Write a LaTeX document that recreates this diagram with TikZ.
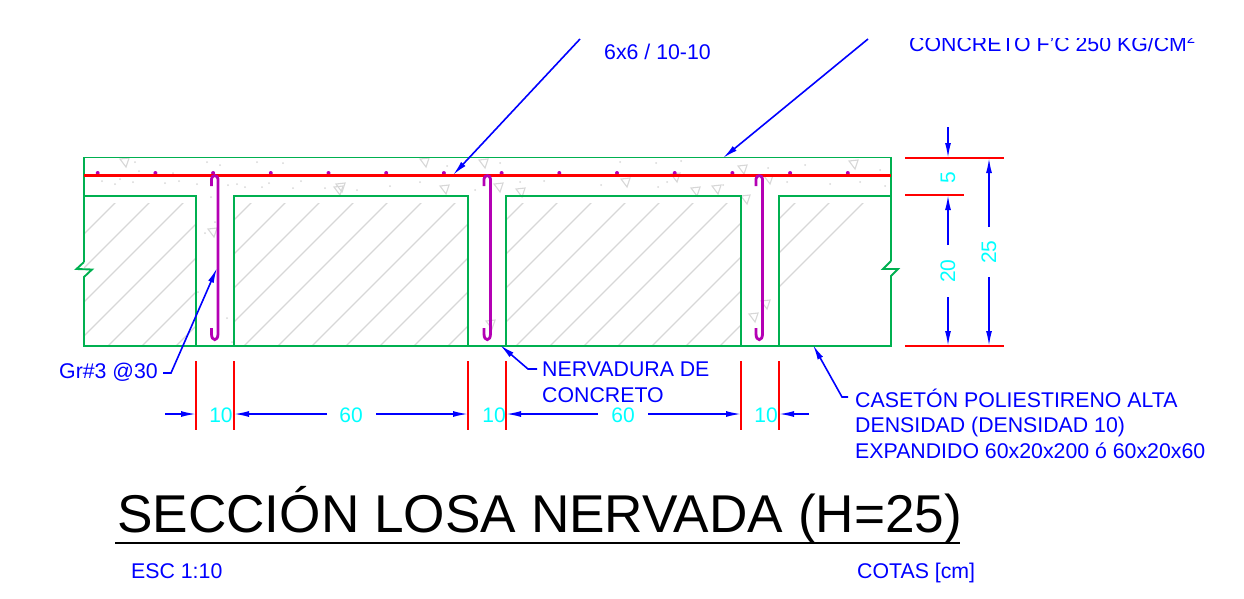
\documentclass[tikz,border=0pt]{standalone}
\usepackage{fontspec}
\setmainfont{Liberation Sans}
\usetikzlibrary{arrows.meta}
\definecolor{slabgreen}{RGB}{0,176,80}
\definecolor{barred}{RGB}{255,0,0}
\definecolor{stirrup}{RGB}{180,0,180}
\definecolor{dimblue}{RGB}{0,0,255}
\definecolor{dimcyan}{RGB}{0,255,255}
\definecolor{hatchgrey}{RGB}{215,215,215}
\begin{document}
\begin{tikzpicture}[
    x=1pt, y=-1pt,
    every node/.style={align=left, inner sep=0pt},
    outline/.style={draw=slabgreen, line width=1.9pt, line join=miter},
    hatch/.style={draw=hatchgrey, line width=1.3pt},
    speck/.style={draw=hatchgrey, line width=1.1pt},
    mesh/.style={draw=barred, line width=3pt},
    redline/.style={draw=barred, line width=1.8pt},
    hook/.style={draw=stirrup, line width=2.8pt},
    leader/.style={draw=dimblue, line width=1.6pt, -{Latex[length=15pt,width=6pt]}},
    dimline/.style={draw=dimblue, line width=1.6pt, -{Latex[length=15pt,width=6pt]}},
    note/.style={text=dimblue, font=\fontsize{21.3}{25}\selectfont, anchor=base west},
    dimtext/.style={text=dimcyan, font=\fontsize{21}{25}\selectfont},
    title/.style={text=black, font=\fontsize{53.2}{60}\selectfont, anchor=base west}
  ]
    \useasboundingbox (0,0) rectangle (1244,598);
    % hatch of the blocks
    \begin{scope}
      \clip (84,203) rectangle (196,346) (234,203) rectangle (468,346)
            (506,203) rectangle (741,346) (779,203) rectangle (891,346);
      \foreach \i in {-3,...,22}
        \draw[hatch] ({318+\i*34-346},346) -- ++(160,-160);
    \end{scope}
    % concrete specks
    \foreach \x/\y in {124/163,338/191,212/233,483/164,498/188,520/193,625/183,675/178,695/192,
                       742/170,745/200,768/180,753/318,490/325,424/163,853/165,340/188,
                       444/190,716/190,765/305}
      \draw[speck] (\x-4,\y-4) -- ++(9,-1) -- ++(-3,9) -- cycle;
    \foreach \x/\y in {135/162,207/162,220/165,257/162,283/163,139/171,173/173,102/181,120/179,
                       133/182,115/184,165/183,179/181,197/184,228/185,237/184,245/187,262/187,
                       269/183,293/188,301/181,325/188,357/190,211/197,215/222,205/233,198/292,
                       227/318,232/342,500/163,620/162,656/163,681/161,768/168,787/182,520/182,
                       544/181,601/185,658/187,723/185,667/182,805/165,830/184,860/182,880/170,
                       885/186,390/186,420/182,447/166,475/190}
      \fill[hatchgrey] (\x,\y) circle (1pt);
    % slab and blocks
    \draw[outline] (84,262) -- (84,157.5) -- (891,157.5) -- (891,261);
    \draw[outline] (84,196) -- (196,196) -- (196,346);
    \draw[outline] (234,346) -- (234,196) -- (468,196) -- (468,346);
    \draw[outline] (506,346) -- (506,196) -- (741,196) -- (741,346);
    \draw[outline] (779,346) -- (779,196) -- (891,196);
    \draw[outline] (84,262) -- (76.5,269) -- (92,269.5) -- (84,277) -- (84,346) -- (891,346) -- (891,276)
       -- (898,269) -- (883,269) -- (891,261);
    % mesh
    \foreach \i in {0,...,13}
      \fill[stirrup] ({97.7+\i*57.7},173) circle (2pt);
    \draw[mesh] (84,175) -- (891,175);
    % stirrups
    \foreach \x in {218,490.5,762.5}
      \draw[hook] (\x-6.5,186) -- (\x-6.5,179) .. controls (\x-6.5,174.5) and (\x,174.5) .. (\x,179)
        -- (\x,334) .. controls (\x,341.5) and (\x-6.5,341.5) .. (\x-6.5,334) -- (\x-6.5,328);
    % leaders
    \coordinate (meshtip) at (453,175);
    \coordinate (slabtip) at (723,158);
    \coordinate (hooktip) at (217,268);
    \coordinate (ribtip) at (500,345);
    \coordinate (blocktip) at (813,345);
    \coordinate (meshstart) at (580,39);
    \coordinate (slabstart) at (868,39);
    \coordinate (hookstart) at (163,373);
    \coordinate (hookbend) at (171,373);
    \coordinate (ribstart) at (537,369);
    \coordinate (ribbend) at (528,369);
    \coordinate (blockstart) at (848,397);
    \coordinate (blockbend) at (842,397);
    \draw[leader] (meshstart) -- (meshtip);
    \draw[leader] (slabstart) -- (slabtip);
    \draw[leader] (hookstart) -- (hookbend) -- (hooktip);
    \draw[leader] (ribstart) -- (ribbend) -- (ribtip);
    \draw[leader] (blockstart) -- (blockbend) -- (blocktip);
    \node[note] (meshnote) at (604,59) {6x6 / 10-10};
    \begin{scope}
      \clip (880,38) rectangle (1244,70);
      \node[note] (slabnote) at (909,51) {CONCRETO F'C 250 KG/CM\textsuperscript{2}};
    \end{scope}
    \node[note] (hooknote) at (59,378) {Gr\#3 @30};
    \node[note] (ribnote) at (542,376.5) {NERVADURA DE};
    \node[note] (ribnotetwo) at (542,402) {CONCRETO};
    \node[note] (blocknote) at (855,407) {CASETÓN POLIESTIRENO ALTA};
    \node[note] (blocknotetwo) at (855,432.5) {DENSIDAD (DENSIDAD 10)};
    \node[note] (blocknotethree) at (855,458) {EXPANDIDO 60x20x200 ó 60x20x60};
    % horizontal dimensions
    \foreach \x in {196,234,468,506,741,779}
      \draw[redline] (\x,361) -- (\x,430);
    \node[dimtext] (dima) at (221,415) {10};
    \node[dimtext] (dimb) at (351,415) {60};
    \node[dimtext] (dimc) at (494,415) {10};
    \node[dimtext] (dimd) at (623,415) {60};
    \node[dimtext] (dime) at (766,415) {10};
    \draw[dimline] (165,414) -- (196,414);
    \draw[dimline] (327,414) -- (234,414);
    \draw[dimline] (376,414) -- (468,414);
    \draw[dimline] (598,414) -- (506,414);
    \draw[dimline] (648,414) -- (741,414);
    \draw[dimline] (809,414) -- (779,414);
    % vertical dimensions
    \draw[redline] (905,158) -- (1004,158);
    \draw[redline] (905,195) -- (964,195);
    \draw[redline] (905,346) -- (1004,346);
    \draw[dimline] (948,127) -- (948,158);
    \draw[dimline] (948,245) -- (948,195);
    \draw[dimline] (948,297) -- (948,346);
    \draw[dimline] (989,227) -- (989,158);
    \draw[dimline] (989,277) -- (989,346);
    \node[dimtext, rotate=90] (dimf) at (948,178) {5};
    \node[dimtext, rotate=90] (dimg) at (948,271) {20};
    \node[dimtext, rotate=90] (dimh) at (989,252) {25};
    % title
    \node[title] (heading) at (117,532) {SECCIÓN LOSA NERVADA (H=25)};
    \draw[line width=1.8pt] (115,543) -- (960,543);
    \node[note] (scalenote) at (131,578) {ESC 1:10};
    \node[note] (unitnote) at (857,578) {COTAS [cm]};
  \end{tikzpicture}
\end{document}
